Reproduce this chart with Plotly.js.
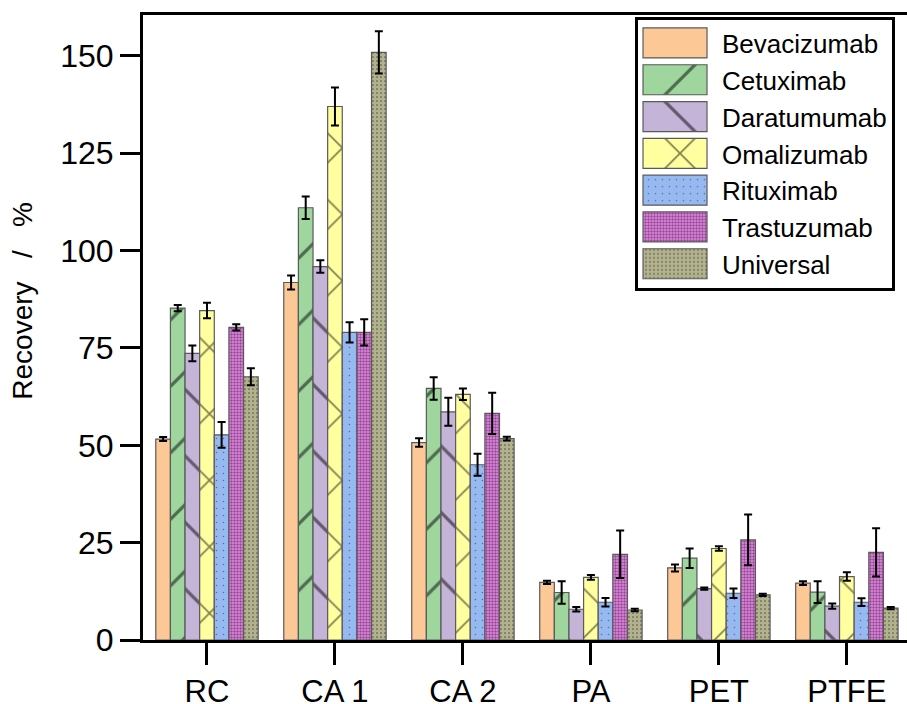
<!DOCTYPE html>
<html>
<head>
<meta charset="utf-8">
<script src="https://cdn.plot.ly/plotly-3.0.1.min.js"></script>
<style>
  html, body { margin: 0; padding: 0; background: #fff; }
  #chart { width: 907px; height: 704px; }
</style>
</head>
<body>
<div id="chart"></div>
<script>
// Membrane materials on the x axis
const categories = ['RC', 'CA 1', 'CA 2', 'PA', 'PET', 'PTFE'];

// Recovery (%) per antibody, with standard deviations
const bevacizumab    = [51.6, 91.8, 50.7, 14.8, 18.5, 14.6];
const bevacizumabErr = [0.5, 1.8, 1.1, 0.4, 0.9, 0.5];
const cetuximab      = [85.2, 111.0, 64.6, 12.2, 21.0, 12.3];
const cetuximabErr   = [0.8, 2.9, 2.9, 2.9, 2.5, 2.8];
const daratumumab    = [73.6, 95.9, 58.6, 7.9, 13.2, 8.7];
const daratumumabErr = [2.0, 1.6, 3.6, 0.6, 0.3, 0.7];
const omalizumab     = [84.6, 137.0, 63.1, 16.1, 23.5, 16.3];
const omalizumabErr  = [2.0, 4.9, 1.5, 0.6, 0.6, 1.1];
const rituximab      = [52.7, 79.0, 45.0, 9.7, 12.0, 9.7];
const rituximabErr   = [3.3, 2.6, 2.8, 1.1, 1.2, 1.0];
const trastuzumab    = [80.3, 79.0, 58.2, 22.0, 25.7, 22.5];
const trastuzumabErr = [0.8, 3.4, 5.3, 6.1, 6.5, 6.2];
const universal      = [67.6, 150.9, 51.7, 7.7, 11.6, 8.2];
const universalErr   = [2.2, 5.4, 0.5, 0.3, 0.3, 0.3];

const yTicks = [0, 25, 50, 75, 100, 125, 150];
const yTitle = 'Recovery\u00a0\u00a0 /\u00a0\u00a0 %';

const FONT = 'Liberation Sans, Arial, sans-serif';

// name, values, errors, fill colour, hatch pattern
const series = [
  ['Bevacizumab', bevacizumab, bevacizumabErr, '#FCC896', null],
  ['Cetuximab',   cetuximab,   cetuximabErr,   '#9ED69E', {shape: '/',  size: 47, solidity: 0.07, fgcolor: '#000'}],
  ['Daratumumab', daratumumab, daratumumabErr, '#C4B4D8', {shape: '\\', size: 47, solidity: 0.07, fgcolor: '#000'}],
  ['Omalizumab',  omalizumab,  omalizumabErr,  '#FFFFA0', {shape: 'x',  size: 47, solidity: 0.07, fgcolor: '#000'}],
  ['Rituximab',   rituximab,   rituximabErr,   '#97B9F2', {shape: '.',  size: 7,  solidity: 0.04, fgcolor: '#223'}],
  ['Trastuzumab', trastuzumab, trastuzumabErr, '#E68CE6', {shape: '.',  size: 3,  solidity: 0.5,  fgcolor: '#3C0C3C'}],
  ['Universal',   universal,   universalErr,   '#B2B28E', {shape: '.',  size: 4,  solidity: 0.14, fgcolor: '#000'}]
];

const traces = series.map(([name, vals, errs, color, pat]) => {
  const marker = { color: color, line: { color: '#5a5a5a', width: 1.2 } };
  if (pat) {
    marker.pattern = Object.assign({ fillmode: 'overlay', bgcolor: color }, pat);
  }
  return {
    type: 'bar',
    name: name,
    x: categories,
    y: vals,
    marker: marker,
    error_y: { type: 'data', array: errs, visible: true, color: '#000', thickness: 2, width: 4 }
  };
});

const layout = {
  width: 907,
  height: 704,
  margin: { l: 143, r: 0, t: 15, b: 64 },
  paper_bgcolor: '#fff',
  plot_bgcolor: '#fff',
  font: { family: FONT, color: '#000' },
  barmode: 'group',
  bargap: 0.2,
  bargroupgap: 0,
  showlegend: true,
  legend: {
    x: 0.644, xanchor: 'left',
    y: 0.9975, yanchor: 'top',
    bgcolor: '#fff',
    bordercolor: '#000',
    borderwidth: 3,
    itemwidth: 74,
    font: { family: FONT, size: 26, color: '#000' }
  },
  xaxis: {
    type: 'category',
    range: [-0.5, 5.47],
    showline: true, linecolor: '#000', linewidth: 3, mirror: true,
    ticks: 'outside', ticklen: 22, tickwidth: 3, tickcolor: '#000',
    showgrid: false, zeroline: false,
    tickfont: { family: FONT, size: 31, color: '#000' }
  },
  yaxis: {
    range: [0, 160.5],
    tickvals: yTicks,
    ticktext: yTicks.map(String),
    showline: true, linecolor: '#000', linewidth: 3,
    ticks: 'outside', ticklen: 20, tickwidth: 3, tickcolor: '#000',
    showgrid: false, zeroline: false,
    tickfont: { family: FONT, size: 32, color: '#000' }
  },
  annotations: [{
    text: yTitle,
    xref: 'paper', yref: 'paper',
    x: -0.157, y: 0.543,
    xanchor: 'center', yanchor: 'middle',
    textangle: -90,
    showarrow: false,
    font: { family: FONT, size: 28, color: '#000' }
  }]
};

Plotly.newPlot('chart', traces, layout, { displayModeBar: false, staticPlot: true }).then(gd => {
  // Enlarge legend swatches and give them the same fill as their bars
  const barTraces = gd.querySelectorAll('.barlayer .trace.bars');
  const legendItems = gd.querySelectorAll('.legend .traces');
  legendItems.forEach((item, i) => {
    const sym = item.querySelector('path.legendbar') || item.querySelector('.legendpoints path');
    if (!sym) return;
    sym.setAttribute('d', 'M27,15H-37V-15H27Z');
    const barPath = barTraces[i] && barTraces[i].querySelector('.point path');
    if (barPath) sym.style.fill = barPath.style.fill;
  });
});
</script>
</body>
</html>
